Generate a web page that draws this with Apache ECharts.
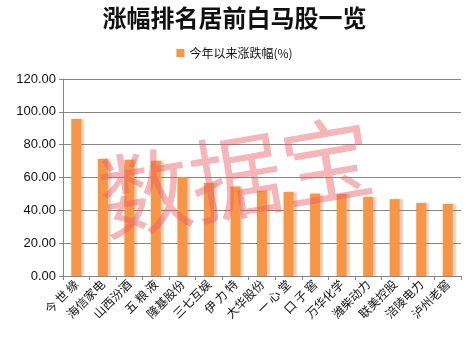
<!DOCTYPE html>
<html><head><meta charset="utf-8">
<script src="https://cdn.jsdelivr.net/npm/echarts@6/dist/echarts.min.js"></script>
<style>html,body{margin:0;padding:0;background:#fff}#c{width:469px;height:347px}</style>
</head><body><div id="c"></div>
<script>
var titleText = '涨幅排名居前白马股一览';
var seriesName = '今年以来涨跌幅(%)';
var categories = ['今 世 缘','海信家电','山西汾酒','五 粮 液','隆基股份','三七互娱','伊 力 特','大华股份','一 心 堂','口 子 窖','万华化学','潍柴动力','联美控股','涪陵电力','泸州老窖'];
var values = [95.6, 71.4, 70.8, 70.2, 60.2, 56.7, 54.5, 51.9, 51.2, 50.2, 50.0, 48.2, 46.8, 44.5, 43.9];
var yTicks = {min: 0, max: 120, interval: 20};
var watermark = '数据宝';

var chart = echarts.init(document.getElementById('c'));
chart.setOption({
  backgroundColor: '#fff',
  animation: false,
  title: {text: titleText, left: 'center', top: 1,
    textStyle: {fontSize: 24, fontWeight: 'bold', color: '#111', fontFamily: 'Noto Sans CJK SC'}},
  legend: {data: [seriesName], top: 42, left: 'center', itemWidth: 8, itemHeight: 8, icon: 'rect',
    textStyle: {fontSize: 12, color: '#111', fontFamily: 'Noto Sans CJK SC'}},
  grid: {left: 63, right: 8, top: 79, bottom: 71},
  xAxis: {type: 'category', data: categories, boundaryGap: true,
    axisLine: {lineStyle: {color: '#868686'}},
    axisTick: {show: true, length: 4, alignWithLabel: false, lineStyle: {color: '#868686'}},
    axisLabel: {rotate: 45, interval: 0, fontSize: 12, color: '#111', margin: 6, fontFamily: 'Noto Sans CJK SC'}},
  yAxis: {type: 'value', min: yTicks.min, max: yTicks.max, interval: yTicks.interval,
    axisLine: {show: true, lineStyle: {color: '#868686'}},
    axisTick: {show: true, length: 4, lineStyle: {color: '#868686'}},
    splitLine: {lineStyle: {color: '#868686'}},
    axisLabel: {formatter: function(v){return v.toFixed(2);}, fontSize: 13, color: '#111', margin: 7, fontFamily: 'Liberation Sans'}},
  series: [{name: seriesName, type: 'bar', data: values, barWidth: 10,
    itemStyle: {color: '#F79646', shadowColor: 'rgba(160,120,60,0.35)', shadowOffsetX: 3, shadowOffsetY: 0, shadowBlur: 2}}],
  graphic: [{type: 'text', x: 236, y: 177, rotation: 0.17, z: 100,
    style: {text: watermark, fontSize: 92, fontFamily: 'Noto Sans CJK SC', fill: 'rgba(232,90,100,0.45)', align: 'center', verticalAlign: 'middle'}}]
});
</script></body></html>
